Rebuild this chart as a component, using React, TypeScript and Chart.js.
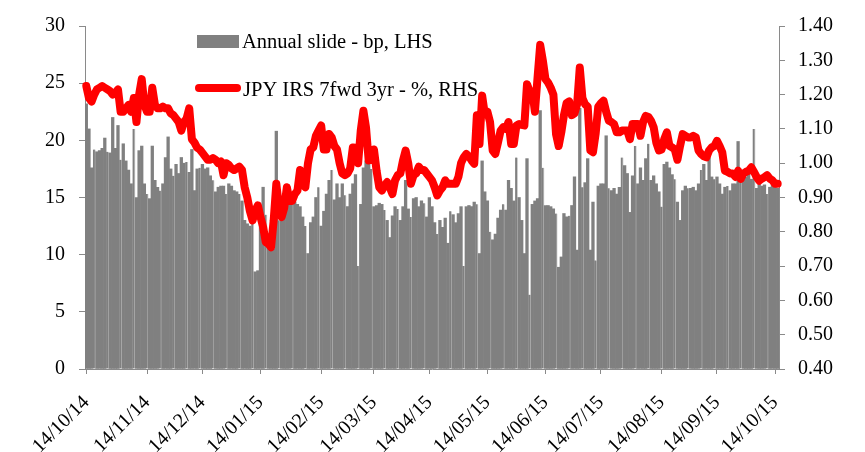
import React, { useEffect, useRef } from 'react';
import { Chart, registerables } from 'chart.js';

Chart.register(...registerables);

// business days run from this date to that one (inclusive)
const startDate = '2014-10-14';
const endDate = '2015-10-15';

const monthTicks = [
  '14/10/14', '14/11/14', '14/12/14', '14/01/15', '14/02/15', '14/03/15', '14/04/15',
  '14/05/15', '14/06/15', '14/07/15', '14/08/15', '14/09/15', '14/10/15',
];

// Annual slide - bp (LHS), one value per business day, a row per week
const slideBp = [
  23.2, 21.0, 17.6, 19.2,
  19.0, 19.1, 19.3, 20.2, 19.0,
  18.9, 22.0, 19.3, 21.3, 18.3,
  19.7, 18.2, 17.4, 16.2, 21.0,
  15.0, 19.1, 19.5, 16.2, 15.3,
  14.9, 19.5, 16.5, 15.9, 15.6,
  16.2, 18.5, 20.3, 17.5, 16.9,
  17.9, 17.1, 18.5, 18.0, 18.1,
  17.2, 19.2, 15.6, 17.5, 17.6,
  17.9, 17.5, 17.6, 16.9, 16.5,
  15.5, 15.9, 16.0, 16.0, 15.3,
  16.2, 16.0, 15.6, 15.5, 15.3,
  14.7, 13.0, 12.7, 12.5, 13.0,
  8.5, 8.6, 12.9, 15.9, 13.5,
  11.3, 10.7, 10.5, 20.8, 13.0,
  13.0, 14.2, 14.7, 15.3, 14.5,
  14.6, 14.4, 14.2, 13.3, 12.5,
  10.1, 12.8, 13.3, 15.0, 15.9,
  12.5, 13.8, 15.3, 16.5, 17.4,
  14.8, 16.2, 15.0, 16.2, 15.2,
  14.2, 15.3, 16.2, 17.0, 9.0,
  14.4, 17.6, 18.2, 19.4, 17.5,
  14.2, 14.3, 14.5, 14.4, 13.9,
  13.0, 11.5, 13.4, 14.2, 14.0,
  13.0, 14.2, 16.5, 14.0, 13.3,
  14.9, 15.0, 14.2, 14.7, 14.5,
  13.3, 15.0, 14.2, 12.8, 11.8,
  13.0, 12.4, 13.2, 11.0, 13.8,
  13.5, 12.8, 13.6, 14.2, 9.0,
  14.2, 14.3, 14.2, 14.6, 14.4,
  10.1, 18.2, 15.5, 14.7, 12.0,
  11.3, 11.8, 13.2, 13.9, 14.4,
  13.9, 16.5, 15.8, 14.7, 18.5,
  15.0, 13.0, 10.1, 18.4, 6.5,
  14.4, 14.7, 14.9, 22.6, 17.6,
  14.3, 14.3, 14.2, 14.0, 13.6,
  8.9, 9.8, 13.6, 13.3, 13.4,
  14.3, 16.8, 10.4, 22.8, 15.9,
  16.3, 18.4, 10.4, 14.6, 9.5,
  16.0, 16.2, 16.2, 20.4, 15.8,
  15.6, 15.8, 15.3, 15.9, 18.5,
  17.8, 17.1, 13.7, 16.9, 19.5,
  16.2, 17.6, 16.5, 18.4, 19.7,
  16.5, 16.9, 16.2, 15.5, 14.2,
  17.9, 18.1, 17.6, 17.0, 16.6,
  14.6, 13.0, 15.6, 16.0, 15.8,
  15.8, 15.9, 15.6, 16.2, 17.4,
  17.9, 16.5, 18.5, 16.8, 16.6,
  16.8, 16.2, 15.3, 15.9, 16.0,
  15.6, 16.2, 16.2, 19.9, 16.6,
  16.5, 16.8, 17.1, 16.6, 21.0,
  15.8, 16.2, 16.0, 16.1, 15.3,
  15.9, 16.2, 16.0, 15.8,
];

// JPY IRS 7fwd 3yr - % (RHS)
const jpyIrs = [
  1.225, 1.19, 1.18, 1.20,
  1.215, 1.22, 1.225, 1.22, 1.215,
  1.21, 1.20, 1.205, 1.215, 1.15,
  1.15, 1.16, 1.17, 1.15, 1.19,
  1.12, 1.20, 1.245, 1.17, 1.15,
  1.15, 1.22, 1.17, 1.16, 1.16,
  1.165, 1.16, 1.16, 1.145, 1.14,
  1.13, 1.12, 1.095, 1.12, 1.13,
  1.16, 1.07, 1.06, 1.045, 1.04,
  1.03, 1.02, 1.01, 1.01, 1.015,
  1.01, 1.00, 1.005, 0.965, 1.00,
  0.995, 0.985, 0.98, 0.985, 0.99,
  0.98, 0.93, 0.90, 0.86, 0.833,
  0.862, 0.877, 0.843, 0.814, 0.77,
  0.765, 0.755, 0.833, 0.94, 0.872,
  0.843, 0.87, 0.93, 0.89, 0.89,
  0.91, 0.92, 0.98, 0.94, 0.93,
  1.00, 1.04, 1.046, 1.08, 1.095,
  1.11, 1.04, 1.04, 1.085, 1.075,
  1.05, 1.04, 1.00, 0.97, 0.965,
  0.97, 0.985, 1.046, 1.045, 1.00,
  1.095, 1.153, 1.104, 1.008, 1.01,
  1.04, 0.978, 0.93, 0.92, 0.935,
  0.945, 0.93, 0.91, 0.95, 0.965,
  0.97, 1.008, 1.037, 1.00, 0.94,
  0.965, 0.97, 0.99, 0.98, 0.98,
  0.97, 0.96, 0.95, 0.93, 0.906,
  0.92, 0.93, 0.95, 0.94, 0.94,
  0.94, 0.94, 0.96, 1.00, 1.017,
  1.027, 1.02, 1.008, 0.998, 1.14,
  1.056, 1.197, 1.143, 1.15, 1.12,
  1.037, 1.027, 1.06, 1.095, 1.105,
  1.10, 1.12, 1.056, 1.056, 1.11,
  1.114, 1.112, 1.11, 1.23, 1.21,
  1.21, 1.15, 1.25, 1.345, 1.30,
  1.245, 1.235, 1.22, 1.20, 1.085,
  1.05, 1.09, 1.14, 1.175, 1.18,
  1.14, 1.145, 1.172, 1.279, 1.19,
  1.172, 1.165, 1.037, 1.032, 1.085,
  1.165, 1.175, 1.182, 1.15, 1.124,
  1.12, 1.114, 1.09, 1.09, 1.095,
  1.095, 1.095, 1.07, 1.114, 1.114,
  1.114, 1.08, 1.12, 1.138, 1.135,
  1.124, 1.105, 1.06, 1.037, 1.04,
  1.07, 1.09, 1.05, 1.046, 1.04,
  1.01, 1.05, 1.085, 1.08, 1.075,
  1.075, 1.08, 1.075, 1.037, 1.027,
  1.02, 1.017, 1.037, 1.046, 1.05,
  1.065, 1.05, 1.032, 0.978, 0.975,
  0.97, 0.97, 0.96, 0.978, 0.954,
  0.97, 0.975, 0.978, 0.988, 0.975,
  0.96, 0.949, 0.955, 0.959, 0.965,
  0.955, 0.95, 0.94, 0.94,
];

const FONT = '"Liberation Serif", "DejaVu Serif", serif';
const AXIS_GREY = '#8a8a8a';

function businessDays(from: string, to: string): Date[] {
  const out: Date[] = [];
  const d = new Date(from + 'T00:00:00Z');
  const end = new Date(to + 'T00:00:00Z');
  while (d <= end) {
    const wd = d.getUTCDay();
    if (wd !== 0 && wd !== 6) out.push(new Date(d));
    d.setUTCDate(d.getUTCDate() + 1);
  }
  return out;
}

const pad = (n: number) => String(n).padStart(2, '0');
const fmt = (d: Date) =>
  pad(d.getUTCDate()) + '/' + pad(d.getUTCMonth() + 1) + '/' + pad(d.getUTCFullYear() % 100);

const days = businessDays(startDate, endDate);
const labels = days.map(fmt);

// category index of the first business day on/after each tick date
const tickIndex = monthTicks.map((s) => {
  const [dd, mm, yy] = s.split('/').map(Number);
  const t = Date.UTC(2000 + yy, mm - 1, dd);
  const i = days.findIndex((d) => d.getTime() >= t);
  return i < 0 ? days.length - 1 : i;
});

// legend drawn inside the plot, stacked like the original
const insideLegend = {
  id: 'insideLegend',
  afterDraw(chart: any) {
    const { ctx, chartArea } = chart;
    const [bars, line] = chart.data.datasets;
    const x0 = chartArea.left + 112;
    ctx.save();
    ctx.font = '20.5px ' + FONT;
    ctx.textBaseline = 'middle';

    ctx.fillStyle = bars.backgroundColor;
    ctx.fillRect(x0, chartArea.top + 9, 42, 13);
    ctx.fillStyle = '#000';
    ctx.fillText(bars.label, x0 + 45, chartArea.top + 17);

    ctx.strokeStyle = line.borderColor;
    ctx.lineWidth = 8;
    ctx.lineCap = 'round';
    ctx.beginPath();
    ctx.moveTo(x0 + 2, chartArea.top + 62);
    ctx.lineTo(x0 + 40, chartArea.top + 62);
    ctx.stroke();
    ctx.fillText(line.label, x0 + 46, chartArea.top + 65);
    ctx.restore();
  },
};

const App: React.FC = () => {
  const chartRef = useRef<HTMLCanvasElement | null>(null);
  const chartInstance = useRef<Chart | null>(null);

  useEffect(() => {
    if (!chartRef.current) return;
    const ctx = chartRef.current.getContext('2d');
    if (!ctx) return;
    if (chartInstance.current) chartInstance.current.destroy();

    const tickFont = { family: FONT, size: 20 };

    chartInstance.current = new Chart(ctx, {
      type: 'bar',
      data: {
        labels: labels,
        datasets: [
          {
            type: 'bar',
            label: 'Annual slide - bp, LHS',
            data: slideBp,
            yAxisID: 'y',
            backgroundColor: '#808080',
            borderColor: '#d6d6d6',
            // thin light stripe after each Friday, like the weekend gap
            borderWidth: (c: any) =>
              days[c.dataIndex] && days[c.dataIndex].getUTCDay() === 5
                ? { top: 0, left: 0, bottom: 0, right: 1 }
                : 0,
            barPercentage: 1,
            categoryPercentage: 1,
            order: 2,
          },
          {
            type: 'line',
            label: 'JPY IRS 7fwd 3yr - %, RHS',
            data: jpyIrs,
            yAxisID: 'y1',
            borderColor: '#ff0000',
            backgroundColor: '#ff0000',
            borderWidth: 8,
            pointRadius: 0,
            tension: 0,
            borderJoinStyle: 'round',
            borderCapStyle: 'round',
            order: 1,
          },
        ] as any,
      },
      options: {
        responsive: false,
        animation: false,
        layout: { padding: { top: 25, left: 0, right: 0, bottom: 0 } },
        plugins: {
          legend: { display: false },
          tooltip: { enabled: false },
        },
        scales: {
          x: {
            type: 'category',
            offset: true,
            grid: {
              drawOnChartArea: false,
              offset: false,
              tickLength: 5,
              color: AXIS_GREY,
            },
            border: { color: AXIS_GREY, width: 1 },
            ticks: {
              autoSkip: false,
              minRotation: 45,
              maxRotation: 45,
              padding: 17,
              color: '#000',
              font: tickFont,
              callback: (v: any) => {
                const k = tickIndex.indexOf(Number(v));
                return k >= 0 ? monthTicks[k] : '';
              },
            },
            afterBuildTicks: (scale: any) => {
              scale.ticks = tickIndex.map((i) => ({ value: i }));
            },
            afterFit: (scale: any) => {
              scale.height = 83;
            },
          },
          y: {
            position: 'left',
            min: 0,
            max: 30,
            grid: { drawOnChartArea: false, tickLength: 6, color: AXIS_GREY },
            border: { color: AXIS_GREY, width: 1 },
            ticks: { stepSize: 5, padding: 14, color: '#000', font: tickFont },
            afterFit: (scale: any) => {
              scale.width = 85;
            },
          },
          y1: {
            position: 'right',
            min: 0.4,
            max: 1.4,
            grid: { drawOnChartArea: false, tickLength: 6, color: AXIS_GREY },
            border: { color: AXIS_GREY, width: 1 },
            ticks: {
              stepSize: 0.1,
              padding: 13,
              color: '#000',
              font: tickFont,
              callback: (v: any) => Number(v).toFixed(2),
            },
            afterFit: (scale: any) => {
              scale.width = 86;
            },
          },
        },
      } as any,
      plugins: [insideLegend],
    });

    return () => {
      if (chartInstance.current) {
        chartInstance.current.destroy();
        chartInstance.current = null;
      }
    };
  }, []);

  return (
    <div style={{ position: 'absolute', left: 0, top: 0, width: 865, height: 452, background: '#fff' }}>
      <canvas ref={chartRef} width={865} height={452} style={{ display: 'block' }}></canvas>
    </div>
  );
};

export default App;
